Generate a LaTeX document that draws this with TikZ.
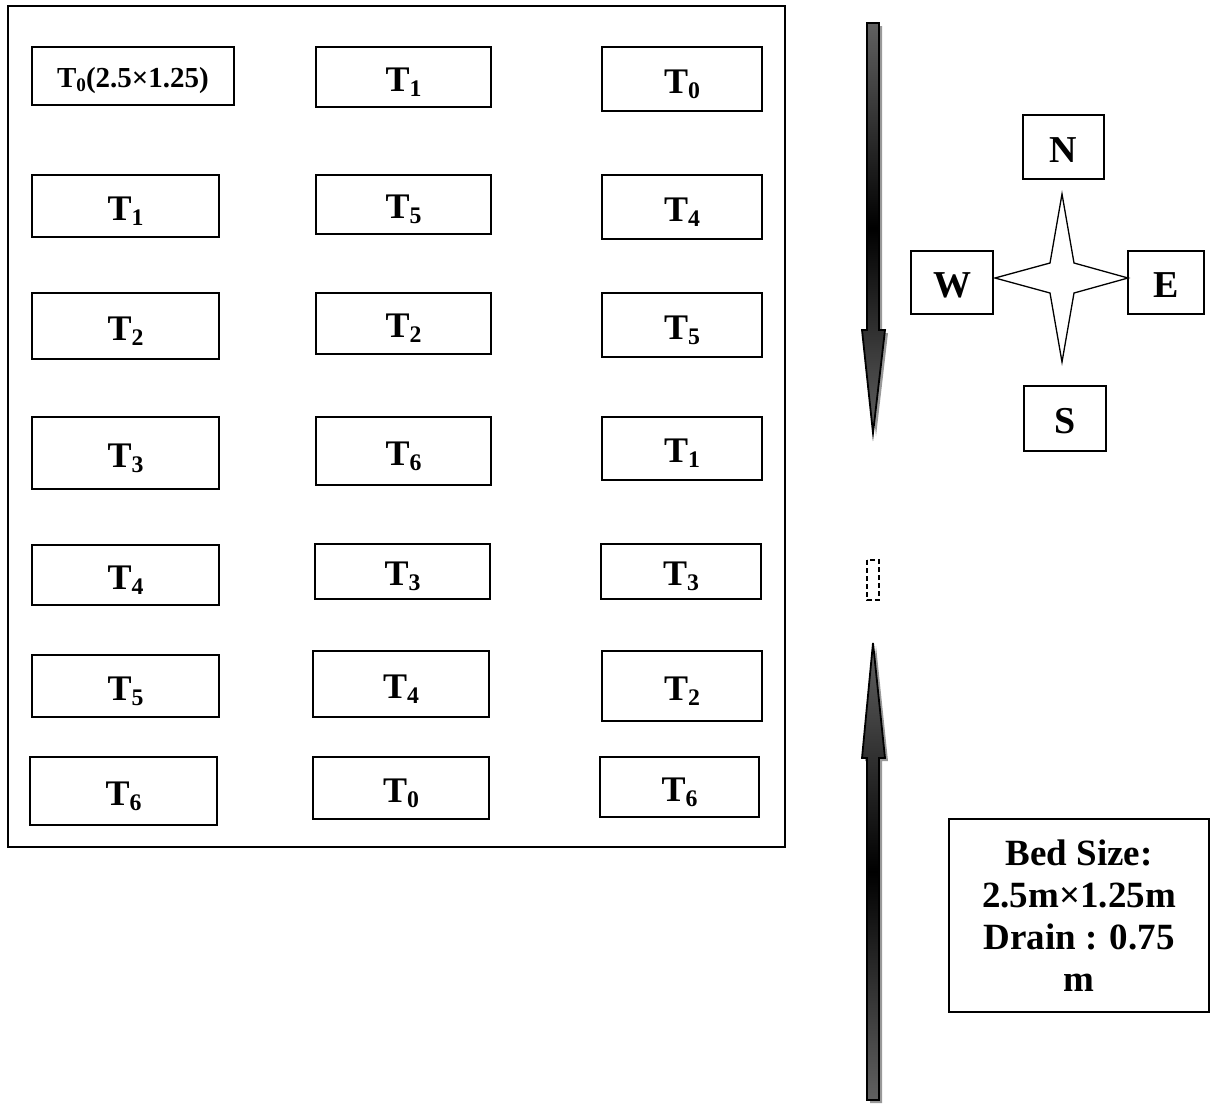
\documentclass[tikz,border=0pt]{standalone}
\usepackage{fontspec}
\setmainfont{Liberation Serif}
\newcommand\sbx[1]{\raisebox{-0.15em}{\scalebox{0.66}{#1}}}
\newcommand\Tn[1]{T\sbx{#1}}
\begin{document}
\begin{tikzpicture}[x=1pt,y=-1pt,
  bx/.style={draw=black,line width=1.4pt,inner sep=0pt,text height=30pt,text depth=2pt,font=\fontsize{36}{40}\selectfont\bfseries},
  cbx/.style={draw=black,line width=1.4pt,inner sep=0pt,text height=30pt,text depth=0pt,font=\fontsize{38}{42}\selectfont\bfseries},
  arrowshade/.style={draw=black,line width=1.8pt,line join=miter,top color=black!62,bottom color=black!62,middle color=black},
  arrowshadow/.style={fill=black!40,draw=none}]
\useasboundingbox (0,0) rectangle (1220,1103);
% outer field
\draw[line width=1.4pt] (8,6) rectangle (785,847);
% column 1
\node[bx,minimum width=202pt,minimum height=58pt,text height=24pt,text depth=2pt,font=\fontsize{29}{32}\selectfont\bfseries] (a1) at (133,76) {\Tn{0}(2.5×1.25)};
\node[bx,minimum width=187pt,minimum height=62pt] (a2) at (125.5,206) {\Tn{1}};
\node[bx,minimum width=187pt,minimum height=66pt] (a3) at (125.5,326) {\Tn{2}};
\node[bx,minimum width=187pt,minimum height=72pt] (a4) at (125.5,453) {\Tn{3}};
\node[bx,minimum width=187pt,minimum height=60pt] (a5) at (125.5,575) {\Tn{4}};
\node[bx,minimum width=187pt,minimum height=62pt] (a6) at (125.5,686) {\Tn{5}};
\node[bx,minimum width=187pt,minimum height=68pt] (a7) at (123.5,791) {\Tn{6}};
% column 2
\node[bx,minimum width=175pt,minimum height=60pt] (b1) at (403.5,77) {\Tn{1}};
\node[bx,minimum width=175pt,minimum height=59pt] (b2) at (403.5,204.5) {\Tn{5}};
\node[bx,minimum width=175pt,minimum height=61pt] (b3) at (403.5,323.5) {\Tn{2}};
\node[bx,minimum width=175pt,minimum height=68pt] (b4) at (403.5,451) {\Tn{6}};
\node[bx,minimum width=175pt,minimum height=55pt] (b5) at (402.5,571.5) {\Tn{3}};
\node[bx,minimum width=176pt,minimum height=66pt] (b6) at (401,684) {\Tn{4}};
\node[bx,minimum width=176pt,minimum height=62pt] (b7) at (401,788) {\Tn{0}};
% column 3
\node[bx,minimum width=160pt,minimum height=64pt] (c1) at (682,79) {\Tn{0}};
\node[bx,minimum width=160pt,minimum height=64pt] (c2) at (682,207) {\Tn{4}};
\node[bx,minimum width=160pt,minimum height=64pt] (c3) at (682,325) {\Tn{5}};
\node[bx,minimum width=160pt,minimum height=63pt] (c4) at (682,448.5) {\Tn{1}};
\node[bx,minimum width=160pt,minimum height=55pt] (c5) at (681,571.5) {\Tn{3}};
\node[bx,minimum width=160pt,minimum height=70pt] (c6) at (682,686) {\Tn{2}};
\node[bx,minimum width=159pt,minimum height=60pt] (c7) at (679.5,787) {\Tn{6}};
% drain arrows
\fill[arrowshadow] (870,26) -- (882,26) -- (882,333) -- (888,333) -- (876,436) -- (865,333) -- (870,333) -- cycle;
\path[arrowshade] (867,23) -- (879,23) -- (879,330) -- (885,330) -- (873,433) -- (862,330) -- (867,330) -- cycle;
\fill[arrowshadow] (876,646) -- (888,761) -- (882,761) -- (882,1103) -- (870,1103) -- (870,761) -- (865,761) -- cycle;
\path[arrowshade] (873,643) -- (885,758) -- (879,758) -- (879,1100) -- (867,1100) -- (867,758) -- (862,758) -- cycle;
% small dashed marker
\draw[line width=1.4pt,dash pattern=on 5pt off 3pt] (867,560) rectangle (879,600);
% compass
\node[cbx,minimum width=81pt,minimum height=64pt] (N) at (1063.5,147) {N};
\node[cbx,minimum width=82pt,minimum height=63pt] (W) at (952,282.5) {W};
\node[cbx,minimum width=76pt,minimum height=63pt] (E) at (1166,282.5) {E};
\node[cbx,minimum width=82pt,minimum height=65pt] (S) at (1065,418.5) {S};
\draw[line width=1.3pt,fill=white,line join=miter] (1062,194) -- (1074,263) -- (1128,278) -- (1074,293) -- (1062,362) -- (1050,293) -- (995,278) -- (1050,263) -- cycle;
% legend
\node[draw=black,line width=1.4pt,minimum width=260pt,minimum height=193pt,inner sep=0pt,align=center,font=\fontsize{37}{42}\selectfont\bfseries] (bed) at (1079,915.5) {Bed Size:\\2.5m×1.25m\\Drain : 0.75\\m};
\end{tikzpicture}
\end{document}
